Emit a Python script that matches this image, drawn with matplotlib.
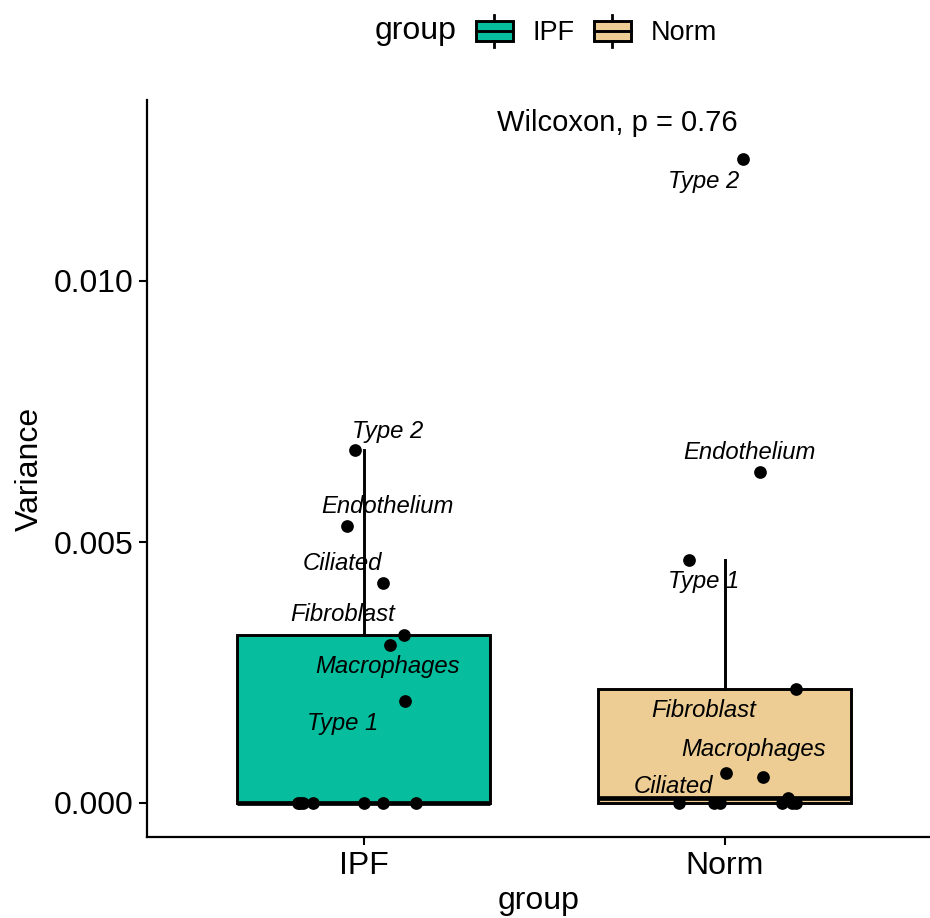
import matplotlib
matplotlib.use("Agg")
import matplotlib.pyplot as plt
from matplotlib.patches import Rectangle
from matplotlib.lines import Line2D
from matplotlib.legend_handler import HandlerBase
import numpy as np

plt.rcParams['font.family'] = ['Liberation Sans', 'DejaVu Sans']

# ---------------- data ----------------
groups = ["IPF", "Norm"]
group_colors = ["#06BE9E", "#EDCD93"]

ipf_types = ["Type 2", "Endothelium", "Ciliated", "Fibroblast", "Macrophages", "Type 1",
             "", "", "", "", "", "", ""]
ipf_var = [0.00676, 0.00531, 0.00421, 0.00322, 0.00303, 0.00195,
           0.0, 0.0, 0.0, 0.0, 0.0, 0.0, 0.0]
ipf_jit = [-0.025, -0.047, 0.055, 0.111, 0.072, 0.116,
           -0.183, -0.177, -0.169, -0.139, 0.0, 0.053, 0.144]

norm_types = ["Type 2", "Endothelium", "Type 1", "Fibroblast", "Ciliated", "Macrophages",
              "", "", "", "", "", "", ""]
norm_var = [0.01234, 0.00634, 0.00466, 0.00218, 0.00058, 0.00050,
            0.0001, 0.0, 0.0, 0.0, 0.0, 0.0, 0.0]
norm_jit = [0.050, 0.097, -0.100, 0.197, 0.003, 0.105,
            0.177, -0.127, -0.030, -0.014, 0.158, 0.186, 0.197]

# label offsets (pixels, x right / y down) for the labelled points
ipf_lab_off = [(33, -19), (41, -19), (-41, -20), (-61, -20), (-2, 22), (-63, 22)]
norm_lab_off = [(-39, 23), (-10, -20), (15, 22), (-92, 21), (-52, 14), (-9, -27)]

y_ticks = [0.0, 0.005, 0.010]
y_tick_labels = ["0.000", "0.005", "0.010"]
p_label = "Wilcoxon, p = 0.76"

# ---------------- figure ----------------
W, H = 930, 918
fig = plt.figure(figsize=(W / 100, H / 100), dpi=100)
ax = fig.add_axes([147 / W, (H - 837) / H, (W - 147) / W, (837 - 100) / H])

box_lw = 2.1
bp = ax.boxplot([ipf_var, norm_var], positions=[1, 2], widths=0.7, patch_artist=True,
                showfliers=False, showcaps=False, whis=1.5,
                boxprops=dict(linewidth=box_lw, edgecolor="black"),
                whiskerprops=dict(linewidth=box_lw, color="black"),
                medianprops=dict(linewidth=3.4, color="black", solid_capstyle="butt"),
                zorder=2)
for patch, c in zip(bp["boxes"], group_colors):
    patch.set_facecolor(c)

all_sets = [(1, ipf_var, ipf_jit, ipf_types, ipf_lab_off),
            (2, norm_var, norm_jit, norm_types, norm_lab_off)]
for pos, vals, jit, types, offs in all_sets:
    xs = pos + np.array(jit)
    ax.scatter(xs, vals, s=84, color="black", zorder=4, linewidths=0, clip_on=False)
    k = 0
    for x, y, t in zip(xs, vals, types):
        if t:
            dx, dy = offs[k]
            k += 1
            ax.annotate(t, (x, y), xytext=(dx, -dy), textcoords="offset pixels",
                        ha="center", va="center", fontsize=17.2, style="italic", zorder=5)

ax.text(1.37, 0.01303, p_label, ha="left", va="center", fontsize=21)

ax.set_xlim(0.4, 0.4 + (W - 147) / 361)
ax.set_ylim(-(837 - 803) / 52.2 * 0.001, (803 - 100) / 52.2 * 0.001)
ax.set_xticks([1, 2])
ax.set_xticklabels(groups)
ax.set_yticks(y_ticks)
ax.set_yticklabels(y_tick_labels)
ax.tick_params(axis="both", labelsize=23, length=6, width=1.5, direction="out", pad=4,
               colors="black")
for s in ["top", "right"]:
    ax.spines[s].set_visible(False)
for s in ["left", "bottom"]:
    ax.spines[s].set_linewidth(1.6)
ax.set_xlabel("group", fontsize=23, labelpad=4)
ax.set_ylabel("Variance", fontsize=23, labelpad=6)


# ---------------- legend ----------------
class BoxHandler(HandlerBase):
    def create_artists(self, legend, orig_handle, xdescent, ydescent, width, height,
                       fontsize, trans):
        fc = orig_handle.get_facecolor()
        x0, y0 = -xdescent, -ydescent
        cx = x0 + width / 2
        r = Rectangle((x0, y0 + 0.18 * height), width, 0.64 * height, facecolor=fc,
                      edgecolor="black", linewidth=2.1, transform=trans)
        l1 = Line2D([cx, cx], [y0, y0 + 0.18 * height], color="black", lw=2.0, transform=trans)
        l2 = Line2D([cx, cx], [y0 + 0.82 * height, y0 + height], color="black", lw=2.0,
                    transform=trans)
        m = Line2D([x0, x0 + width], [y0 + 0.5 * height, y0 + 0.5 * height], color="black",
                   lw=2.1, transform=trans)
        return [r, l1, l2, m]


handles = [Rectangle((0, 0), 1, 1, facecolor=c) for c in group_colors]
fig.text(375 / W, 1 - 31 / H, "group", fontsize=23, ha="left", va="center")
fig.legend(handles, groups, handler_map={Rectangle: BoxHandler()},
           loc="center left", bbox_to_anchor=(476 / W, 1 - 31 / H), ncol=2, frameon=False,
           fontsize=19.5, handlelength=1.35, handleheight=1.45, handletextpad=0.75,
           columnspacing=0.7, borderpad=0, borderaxespad=0)

fig.savefig("out.png", dpi=100)
